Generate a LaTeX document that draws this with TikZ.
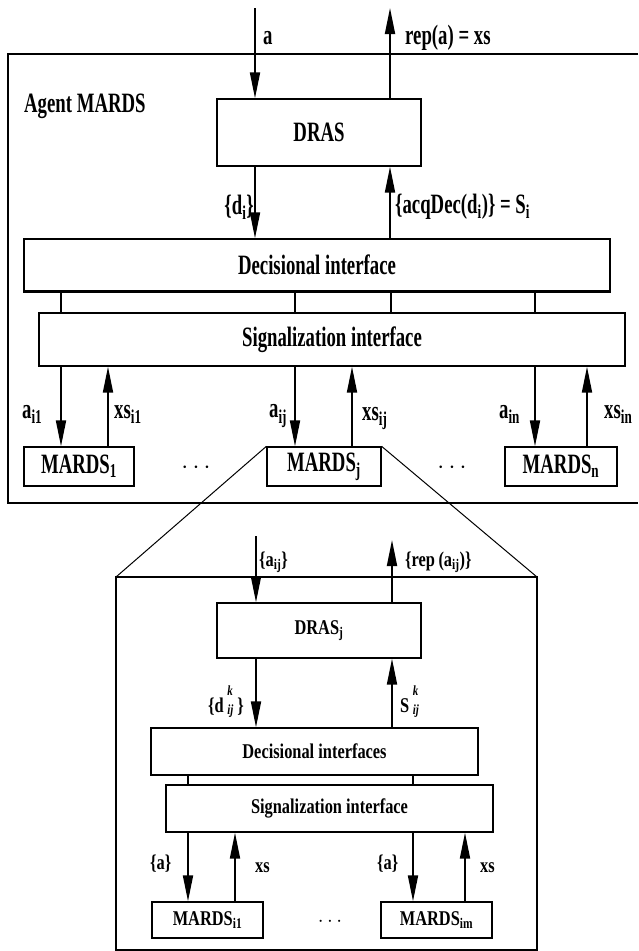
\documentclass[tikz,border=0pt]{standalone}
\usepackage{fontspec}
\setmainfont{Liberation Serif}[FakeStretch=0.67]
\newfontfamily\lowfont{Liberation Serif}[FakeStretch=0.78]
\usetikzlibrary{arrows.meta}
\newcommand\upsize{\fontsize{28}{30}\selectfont\bfseries}
\newcommand\lowsize{\lowfont\fontsize{21}{23}\selectfont\bfseries}
\newcommand\supsub[2]{\rlap{\raisebox{0.8em}{\fontsize{14}{14}\selectfont\itshape #1}}\raisebox{-0.1em}{\fontsize{14}{14}\selectfont\itshape #2}}
\begin{document}
\begin{tikzpicture}[x=1pt,y=-1pt,
    box/.style={draw,line width=1.3pt,inner sep=0pt},
    arr/.style={line width=1.8pt,-{Triangle[length=26pt,width=10pt]}},
    link/.style={line width=1.6pt},
    lbl/.style={inner sep=0pt,anchor=west},
    up/.style={font=\upsize},
    low/.style={font=\lowsize}]
    \useasboundingbox (0,0) rectangle (638,951);
    % agent MARDS frame
    \draw [line width=1.5pt] (638,54) -- (8,54) -- (8,503) -- (638,503);
    \node [lbl,up] (agent) at (24,106) {Agent MARDS};
    % boxes
    \node [box,up,minimum width=204pt,minimum height=67pt] (dras) at (319,132.5) {DRAS};
    \node [box,up,minimum width=586pt,minimum height=52pt] (dec) at (317,265) {Decisional interface};
    \draw [line width=2.6pt] (dec.south west) -- (dec.south east);
    \node [box,up,minimum width=586pt,minimum height=53pt] (sig) at (332,339.5) {Signalization interface};
    \node [box,up,minimum width=110pt,minimum height=39pt] (m1) at (79,466.5) {MARDS\textsubscript{1}};
    \node [box,up,minimum width=114pt,minimum height=39pt] (mj) at (324,466.5) {MARDS\textsubscript{j}};
    \node [box,up,minimum width=112pt,minimum height=39pt] (mn) at (561,466.5) {MARDS\textsubscript{n}};
    \node [up] (dots1) at (196,468) {$\cdots$};
    \node [up] (dots2) at (452,468) {$\cdots$};
    % in / out
    \coordinate (ain) at (255,8);
    \coordinate (aout) at (390,8);
    \draw [arr] (ain) -- (ain |- dras.north);
    \draw [arr] (aout |- dras.north) -- (aout);
    \node [lbl,up] (la) at (263,38) {a};
    \node [lbl,up] (lrep) at (405,38) {rep(a) = xs};
    % DRAS <-> decisional
    \draw [arr] (ain |- dras.south) -- (ain |- dec.north);
    \draw [arr] (aout |- dec.north) -- (aout |- dras.south);
    \node [up,inner sep=0pt,anchor=east] (ld) at (254,207) {\{d\textsubscript{i}\}};
    \node [lbl,up] (lacq) at (395,207) {\{acqDec(d\textsubscript{i})\} = S\textsubscript{i}};
    % decisional -- signalization
    \foreach \xx in {61,295,391,535}
        \draw [link] (\xx,0 |- dec.south) -- (\xx,0 |- sig.north);
    % signalization <-> MARDS
    \draw [arr] (61,0 |- sig.south) -- (61,0 |- m1.north);
    \draw [arr] (108,0 |- m1.north) -- (108,0 |- sig.south);
    \draw [arr] (295,0 |- sig.south) -- (295,0 |- mj.north);
    \draw [arr] (352,0 |- mj.north) -- (352,0 |- sig.south);
    \draw [arr] (535,0 |- sig.south) -- (535,0 |- mn.north);
    \draw [arr] (587,0 |- mn.north) -- (587,0 |- sig.south);
    % label
    \node [lbl,up] (lai1) at (22,414) {a\textsubscript{i1}};
    \node [lbl,up] (lxs1) at (114,414) {xs\textsubscript{i1}};
    \node [lbl,up] (laij) at (269,416) {a\textsubscript{ij}};
    \node [lbl,up] (lxsj) at (362,418) {xs\textsubscript{ij}};
    \node [lbl,up] (lain) at (499,414) {a\textsubscript{in}};
    \node [lbl,up] (lxsn) at (604,414) {xs\textsubscript{in}};
    % zoom on MARDS_j
    \draw [line width=1.5pt] (116,577) rectangle (537,950);
    \coordinate (zl) at (116,577);
    \coordinate (zr) at (537,577);
    \draw [line width=1pt] (mj.north west) -- (zl);
    \draw [line width=1pt] (mj.north east) -- (zr);
    \node [box,low,minimum width=204pt,minimum height=55pt] (drasj) at (319,630.5) {DRAS\textsubscript{j}};
    \node [box,low,minimum width=327pt,minimum height=47pt] (decj) at (314.5,751.5) {Decisional interfaces};
    \node [box,low,minimum width=327pt,minimum height=47pt] (sigj) at (329.5,808.5) {Signalization interface};
    \node [box,low,minimum width=111pt,minimum height=36pt] (mi1) at (207.5,920) {MARDS\textsubscript{i1}};
    \node [box,low,minimum width=111pt,minimum height=36pt] (mim) at (436.5,920) {MARDS\textsubscript{im}};
    \node [low] (dots3) at (330,922) {$\cdots$};
    % in / out of DRAS_j
    \coordinate (bin) at (256,536);
    \coordinate (bout) at (392,540);
    \draw [arr] (bin) -- (bin |- drasj.north);
    \draw [arr] (bout |- drasj.north) -- (bout);
    \node [lbl,low] (lbin) at (259,562) {\{a\textsubscript{ij}\}};
    \node [lbl,low] (lbout) at (405,562) {\{rep\,(a\textsubscript{ij})\}};
    \draw [arr] (bin |- drasj.south) -- (bin |- decj.north);
    \draw [arr] (bout |- decj.north) -- (bout |- drasj.south);
    \node [lbl,low] (ldk) at (208,702) {\{d\,\supsub{k}{ij} \}};
    \node [lbl,low] (lsk) at (400,702) {S\,\supsub{k}{ij}};
    \foreach \xx in {188,413}
        \draw [link] (\xx,0 |- decj.south) -- (\xx,0 |- sigj.north);
    \draw [arr] (188,0 |- sigj.south) -- (188,0 |- mi1.north);
    \draw [arr] (235,0 |- mi1.north) -- (235,0 |- sigj.south);
    \draw [arr] (413,0 |- sigj.south) -- (413,0 |- mim.north);
    \draw [arr] (465,0 |- mim.north) -- (465,0 |- sigj.south);
    % label
    \node [lbl,low] (la1) at (150,864) {\{a\}};
    \node [lbl,low] (lx1) at (255,868) {xs};
    \node [lbl,low] (la2) at (377,864) {\{a\}};
    \node [lbl,low] (lx2) at (480,868) {xs};
\end{tikzpicture}
\end{document}
